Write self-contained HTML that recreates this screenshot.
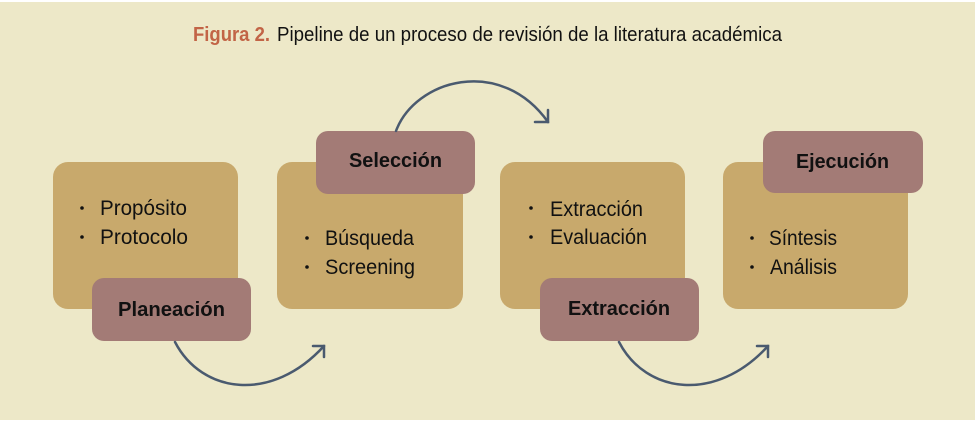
<!DOCTYPE html>
<html><head><meta charset="utf-8"><style>
html,body{margin:0;padding:0;background:#fff;}
svg{display:block;}
</style></head><body>
<svg width="975" height="429" viewBox="0 0 975 429" xmlns="http://www.w3.org/2000/svg">
<rect x="0" y="0" width="975" height="429" fill="#ffffff"/>
<rect x="0" y="2" width="975" height="418" fill="#EDE8C8"/>
<text y="41" font-family="Liberation Sans, sans-serif" font-size="20"><tspan x="193" font-weight="bold" fill="#C26446" textLength="77" lengthAdjust="spacingAndGlyphs">Figura 2.</tspan><tspan x="277" fill="#111" textLength="505" lengthAdjust="spacingAndGlyphs">Pipeline de un proceso de revisión de la literatura académica</tspan></text>
<g fill="#C8A96C">
<rect x="53" y="162" width="185" height="147" rx="15"/>
<rect x="277" y="162" width="186" height="147" rx="15"/>
<rect x="500" y="162" width="185" height="147" rx="15"/>
<rect x="723" y="162" width="185" height="147" rx="15"/>
</g>
<g fill="#A37B76">
<rect x="92" y="278" width="159" height="63" rx="12"/>
<rect x="316" y="131" width="159" height="63" rx="12"/>
<rect x="540" y="278" width="159" height="63" rx="12"/>
<rect x="763" y="131" width="160" height="62" rx="12"/>
</g>
<g font-family="Liberation Sans, sans-serif" font-size="20" font-weight="bold" fill="#111">
<text x="118" y="316" textLength="107" lengthAdjust="spacingAndGlyphs">Planeación</text>
<text x="349" y="167" textLength="93" lengthAdjust="spacingAndGlyphs">Selección</text>
<text x="568" y="315" textLength="102" lengthAdjust="spacingAndGlyphs">Extracción</text>
<text x="796" y="168" textLength="93" lengthAdjust="spacingAndGlyphs">Ejecución</text>
</g>
<g fill="#111">
<circle cx="82" cy="208" r="1.8"/><circle cx="82" cy="237" r="1.8"/>
<circle cx="307" cy="238" r="1.8"/><circle cx="307" cy="267" r="1.8"/>
<circle cx="531" cy="208" r="1.8"/><circle cx="531" cy="237" r="1.8"/>
<circle cx="752" cy="238" r="1.8"/><circle cx="752" cy="267" r="1.8"/>
</g>
<g font-family="Liberation Sans, sans-serif" font-size="21" fill="#111">
<text x="100" y="215" textLength="87" lengthAdjust="spacingAndGlyphs">Propósito</text>
<text x="100" y="244" textLength="88" lengthAdjust="spacingAndGlyphs">Protocolo</text>
<text x="325" y="245" textLength="89" lengthAdjust="spacingAndGlyphs">Búsqueda</text>
<text x="325" y="274" textLength="90" lengthAdjust="spacingAndGlyphs">Screening</text>
<text x="550" y="216" textLength="93" lengthAdjust="spacingAndGlyphs">Extracción</text>
<text x="550" y="244" textLength="97" lengthAdjust="spacingAndGlyphs">Evaluación</text>
<text x="769" y="245" textLength="68" lengthAdjust="spacingAndGlyphs">Síntesis</text>
<text x="770" y="274" textLength="67" lengthAdjust="spacingAndGlyphs">Análisis</text>
</g>
<g fill="none" stroke="#4A5A6F" stroke-width="2.5" stroke-linecap="round" stroke-linejoin="miter">
<path d="M175,342 C202,394 272,403 324,346"/>
<path d="M313,346 L324,346 L324,357"/>
<path d="M396,131 C415,80 500,55 548,122"/>
<path d="M535,122 L548,122 L548,110"/>
<path d="M619,342 C646,394 716,403 768,346"/>
<path d="M757,346 L768,346 L768,357"/>
</g>
</svg>
</body></html>
